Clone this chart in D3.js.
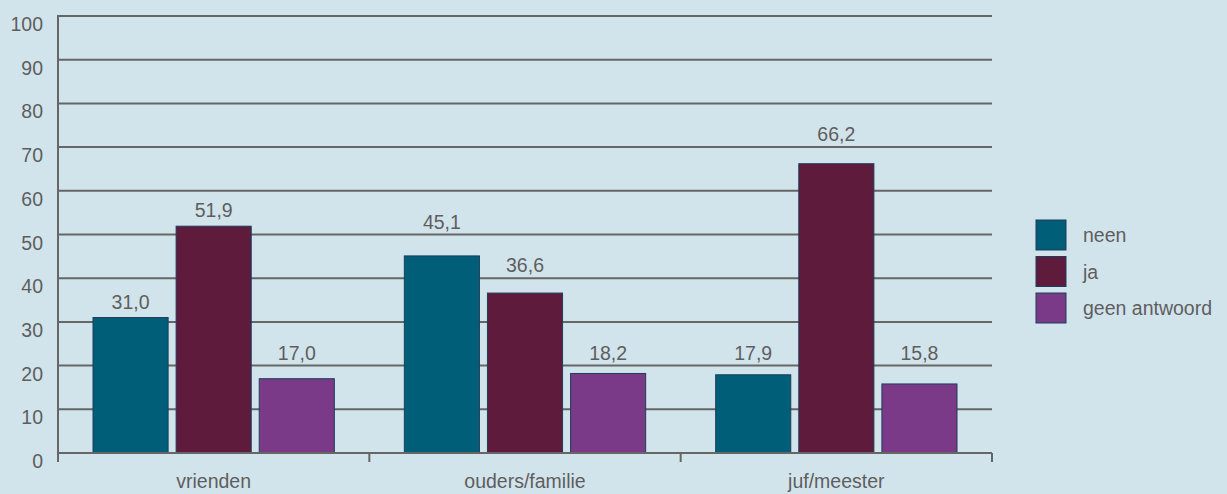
<!DOCTYPE html>
<html>
<head>
<meta charset="utf-8">
<script src="https://cdnjs.cloudflare.com/ajax/libs/d3/7.8.5/d3.min.js"></script>
<title>Bars</title>
<style>
  body{ margin: 0; background-color: #d2e4eb; }
  text{ font-family: "Liberation Sans", Arial, sans-serif; font-size: 19.5px; fill: #5e5e5e; }
</style>
</head>
<body>
<script>
var categories = ["vrienden", "ouders/familie", "juf/meester"],
    series = ["neen", "ja", "geen antwoord"],
    colors = ["#005e78", "#5e1b3c", "#7b3a88"],
    neen = [31.0, 45.1, 17.9],
    ja = [51.9, 36.6, 66.2],
    geen = [17.0, 18.2, 15.8],
    yTicks = [0, 10, 20, 30, 40, 50, 60, 70, 80, 90, 100];

var values = [neen, ja, geen];

var w = 1227, h = 494,
    x0 = 58, x1 = 992, yTop = 16, yBot = 453;   // plot edges

var fmt = d3.formatLocale({decimal: ",", thousands: ".", grouping: [3], currency: ["", ""]}).format(".1f");

var svg = d3.select("body").append("svg")
    .attr("width", w)
    .attr("height", h);

var y = d3.scaleLinear().domain([0, 100]).range([yBot, yTop]);
var x = d3.scaleBand().domain(categories).range([x0, x1]);
var xs = d3.scaleBand().domain(series)
    .range([35, x.bandwidth() - 35])
    .paddingInner(8/83);

var gridY = yTicks.slice(1).map(y);

// gridlines
svg.selectAll("line.grid")
  .data(gridY)
  .enter().append("line")
    .attr("class", "grid")
    .attr("x1", x0).attr("x2", x1)
    .attr("y1", function(d){ return d; })
    .attr("y2", function(d){ return d; })
    .attr("stroke", "#666")
    .attr("stroke-width", 2);

// y labels (sit just below their line)
svg.selectAll("text.ylab")
  .data(yTicks)
  .enter().append("text")
    .attr("class", "ylab")
    .attr("x", 43)
    .attr("y", function(d){ return y(d) + 15; })
    .attr("text-anchor", "end")
    .text(function(d){ return d; });

// bars
var groups = svg.selectAll("g.cat")
  .data(categories)
  .enter().append("g")
    .attr("class", "cat")
    .attr("transform", function(c){ return "translate(" + x(c) + ",0)"; });

function rows(c, i){
  return series.map(function(s, j){ return {s: s, j: j, v: values[j][i]}; });
}

// value label above bar, pushed up when it would sit on a gridline
function labelY(v){
  var b = y(v) - 9;
  gridY.forEach(function(g){
    if (g > b - 14 && g < b + 3) b = g - 6;
  });
  return b;
}

groups.selectAll("rect")
  .data(rows)
  .enter().append("rect")
    .attr("x", function(d){ return xs(d.s); })
    .attr("y", function(d){ return y(d.v); })
    .attr("width", xs.bandwidth())
    .attr("height", function(d){ return y(0) - y(d.v); })
    .attr("fill", function(d){ return colors[d.j]; })
    .attr("stroke", "#1d3d5c")
    .attr("stroke-width", 1);

groups.selectAll("text.val")
  .data(rows)
  .enter().append("text")
    .attr("class", "val")
    .attr("x", function(d){ return xs(d.s) + xs.bandwidth()/2; })
    .attr("y", function(d){ return labelY(d.v); })
    .attr("text-anchor", "middle")
    .text(function(d){ return fmt(d.v); });

// axes lines
svg.append("line")
    .attr("x1", x0).attr("x2", x0)
    .attr("y1", yTop - 1).attr("y2", yBot + 9)
    .attr("stroke", "#666").attr("stroke-width", 2);
svg.append("line")
    .attr("x1", x0).attr("x2", x1)
    .attr("y1", yBot).attr("y2", yBot)
    .attr("stroke", "#666").attr("stroke-width", 2);

var xTicks = categories.map(function(c){ return x(c); }).concat([x1]);
svg.selectAll("line.xtick")
  .data(xTicks)
  .enter().append("line")
    .attr("class", "xtick")
    .attr("x1", function(d){ return d; }).attr("x2", function(d){ return d; })
    .attr("y1", yBot).attr("y2", yBot + 9)
    .attr("stroke", "#666").attr("stroke-width", 2);

svg.selectAll("text.xlab")
  .data(categories)
  .enter().append("text")
    .attr("class", "xlab")
    .attr("x", function(c){ return x(c) + x.bandwidth()/2; })
    .attr("y", 488)
    .attr("text-anchor", "middle")
    .text(function(c){ return c; });

// legend
var legend = svg.selectAll("g.leg")
  .data(series)
  .enter().append("g")
    .attr("class", "leg")
    .attr("transform", function(d, i){ return "translate(1036," + (220 + i*36.5) + ")"; });
legend.append("rect")
    .attr("width", 30).attr("height", 30)
    .attr("fill", function(d, i){ return colors[i]; })
    .attr("stroke", "#1d3d5c");
legend.append("text")
    .attr("x", 47).attr("y", 22)
    .text(function(d){ return d; });
</script>
</body>
</html>
